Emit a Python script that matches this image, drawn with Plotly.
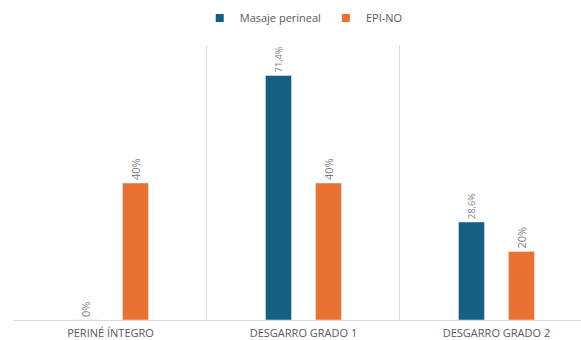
import plotly.graph_objects as go

categories = ["PERINÉ ÍNTEGRO", "DESGARRO GRADO 1", "DESGARRO GRADO 2"]
series_names = ["Masaje perineal", "EPI-NO"]
masaje_values = [0, 71.4, 28.6]
epino_values = [40, 40, 20]
masaje_labels = ["0%", "71,4%", "28,6%"]
epino_labels = ["40%", "40%", "20%"]
colors = ["#156082", "#E97132"]

x_pos = list(range(len(categories)))

fig = go.Figure()
for name, vals, labels, col in [
    (series_names[0], masaje_values, masaje_labels, colors[0]),
    (series_names[1], epino_values, epino_labels, colors[1]),
]:
    fig.add_trace(go.Bar(
        x=x_pos, y=vals, name=name, marker_color=col,
        text=labels, textposition="outside", textangle=-90,
        textfont=dict(size=11, color="#7f7f7f", family="Open Sans"),
        cliponaxis=False, showlegend=False,
    ))
    fig.add_trace(go.Scatter(
        x=[None], y=[None], mode="markers", name=name,
        marker=dict(symbol="square", size=8, color=col),
    ))

fig.update_layout(
    width=581, height=340,
    margin=dict(l=14, r=0, t=46, b=20, autoexpand=False),
    paper_bgcolor="white", plot_bgcolor="white",
    barmode="group", bargap=0.482, bargroupgap=0.48,
    font=dict(family="Open Sans", color="#595959", size=11),
    legend=dict(orientation="h", x=0.511, xanchor="center", y=1.102, yanchor="middle",
                font=dict(size=11, color="#595959"), itemwidth=30,
                bgcolor="rgba(0,0,0,0)"),
    showlegend=True,
)
fig.update_xaxes(
    range=[-0.5, 2.438], tickmode="array", tickvals=x_pos, ticktext=categories,
    showgrid=False, zeroline=False, showline=True, linecolor="#d9d9d9", linewidth=1,
    tickfont=dict(size=11, color="#595959"), ticks="", automargin=False,
    ticklabelstandoff=3,
    minor=dict(tickmode="linear", tick0=-0.5, dtick=1, showgrid=True,
               gridcolor="#d9d9d9", gridwidth=1, ticks=""),
)
fig.update_yaxes(range=[0, 80], visible=False, showgrid=False, zeroline=False)

fig.write_html("out.html")
